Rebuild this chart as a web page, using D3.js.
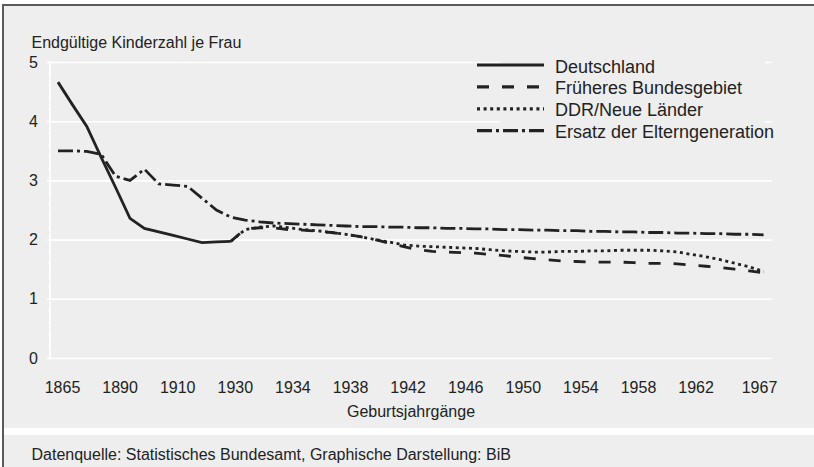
<!DOCTYPE html>
<html>
<head>
<meta charset="utf-8">
<script src="https://cdn.jsdelivr.net/npm/d3@7"></script>
<style>
  body { margin: 0; background: #fff; }
  svg text { font-family: "Liberation Sans", Arial, sans-serif; fill: #222; }
</style>
</head>
<body>
<svg width="814" height="467"></svg>
<script>
var svg = d3.select('svg');

// Birth cohorts (one category each; before 1930 the steps are wider)
var cohorts = ['1865', '1870', '1875', '1880', '1890', '1895', '1900', '1905', '1910', '1915', '1920', '1925',
    '1930', '1931', '1932', '1933', '1934', '1935', '1936', '1937', '1938', '1939',
    '1940', '1941', '1942', '1943', '1944', '1945', '1946', '1947', '1948', '1949',
    '1950', '1951', '1952', '1953', '1954', '1955', '1956', '1957', '1958', '1959',
    '1960', '1961', '1962', '1963', '1964', '1965', '1966', '1967'];

var tickLabels = ['1865', '1890', '1910', '1930', '1934', '1938', '1942', '1946', '1950', '1954', '1958', '1962', '1967'];
var yTicks = [0, 1, 2, 3, 4, 5];

// Deutschland, up to 1930
var deutschland = [4.66, 4.28, 3.91, 3.39, 2.88, 2.36, 2.19, 2.13, 2.07, 2.01, 1.95, 1.96, 1.97];

// Früheres Bundesgebiet, from 1930
var bundesgebiet = [1.97, 2.18, 2.20, 2.20, 2.17, 2.16, 2.14, 2.12, 2.09, 2.05,
    2.00, 1.94, 1.88, 1.83, 1.80, 1.79, 1.78, 1.77, 1.75, 1.73,
    1.70, 1.68, 1.66, 1.64, 1.63, 1.62, 1.62, 1.62, 1.61, 1.60,
    1.60, 1.59, 1.57, 1.55, 1.53, 1.50, 1.47, 1.44];

// DDR/Neue Länder, from 1930
var ddr = [1.97, 2.17, 2.21, 2.23, 2.20, 2.17, 2.15, 2.12, 2.09, 2.05,
    2.00, 1.96, 1.91, 1.89, 1.88, 1.87, 1.86, 1.85, 1.83, 1.81,
    1.80, 1.79, 1.79, 1.80, 1.80, 1.81, 1.81, 1.82, 1.82, 1.82,
    1.81, 1.79, 1.75, 1.71, 1.66, 1.60, 1.54, 1.46];

// Ersatz der Elterngeneration, all cohorts
var ersatz = [3.50, 3.50, 3.49, 3.44, 3.07, 3.00, 3.19, 2.94, 2.92, 2.90, 2.70, 2.50,
    2.38, 2.33, 2.30, 2.28, 2.27, 2.26, 2.25, 2.24, 2.23, 2.22,
    2.22, 2.21, 2.21, 2.20, 2.20, 2.19, 2.19, 2.18, 2.18, 2.17,
    2.17, 2.16, 2.16, 2.15, 2.15, 2.14, 2.14, 2.13, 2.13, 2.12,
    2.12, 2.11, 2.11, 2.10, 2.10, 2.09, 2.09, 2.08];

var series = [
    {name: 'Deutschland', values: deutschland, start: 0, dash: null},
    {name: 'Früheres Bundesgebiet', values: bundesgebiet, start: 12, dash: '12,13'},
    {name: 'DDR/Neue Länder', values: ddr, start: 12, dash: '3,3.6'},
    {name: 'Ersatz der Elterngeneration', values: ersatz, start: 0, dash: '15,4,3,4'}
];

var bg = '#eeeeee';
var plot = {l: 50, r: 772, t: 62, b: 358};

// Frame and background
svg.append('rect').attr('x', 3).attr('y', 5).attr('width', 820).attr('height', 470)
    .attr('fill', bg).attr('stroke', '#5a5a5a').attr('stroke-width', 2);
svg.append('rect').attr('x', 4).attr('y', 428).attr('width', 814).attr('height', 7).attr('fill', '#fff');

var x = d3.scalePoint().domain(cohorts).range([58, 763.6]);
var y = d3.scaleLinear().domain([0, 5]).range([plot.b, plot.t]);

// Gridlines + y labels
var yAxis = d3.axisLeft(y).tickValues(yTicks).tickSize(-(plot.r - 47)).tickFormat(d3.format('d'));
var yG = svg.append('g').attr('transform', 'translate(47,0)').call(yAxis);
yG.select('.domain').remove();
yG.selectAll('.tick line').attr('stroke', '#fff').attr('stroke-width', 1.6);
yG.selectAll('.tick text').attr('x', -9).attr('font-size', 16).attr('fill', '#222');

// minor ticks
var minor = d3.range(0, 5.01, 0.2);
svg.append('g').selectAll('line').data(minor).join('line')
    .attr('x1', 47.5).attr('x2', 50).attr('y1', d => y(d)).attr('y2', d => y(d))
    .attr('stroke', '#fff').attr('stroke-width', 1.2);
svg.append('line').attr('x1', plot.l).attr('x2', plot.l).attr('y1', plot.t).attr('y2', plot.b)
    .attr('stroke', '#fff').attr('stroke-width', 1.6);

// x labels
var xG = svg.append('g').attr('transform', 'translate(0,' + plot.b + ')')
    .call(d3.axisBottom(x).tickValues(tickLabels).tickSize(0));
xG.select('.domain').remove();
xG.selectAll('.tick text').attr('font-size', 16).attr('y', 0).attr('dy', '35px')
    .attr('x', function(d) { return Math.min(4, 759 - x(d)); });

svg.append('text').attr('x', (plot.l + plot.r) / 2).attr('y', 416.5)
    .attr('text-anchor', 'middle').attr('font-size', 16).text('Geburtsjahrgänge');
svg.append('text').attr('x', 31.5).attr('y', 48).attr('font-size', 16).text('Endgültige Kinderzahl je Frau');
svg.append('text').attr('x', 31.5).attr('y', 459.5).attr('font-size', 16)
    .text('Datenquelle: Statistisches Bundesamt, Graphische Darstellung: BiB');

// Legend background hides gridlines behind it
svg.append('rect').attr('x', 500).attr('y', 52).attr('width', 265).attr('height', 90).attr('fill', bg);

// Lines
var line = d3.line()
    .x(function(d) { return x(cohorts[d.i]); })
    .y(function(d) { return y(d.v); });

series.forEach(function(s) {
    var pts = s.values.map(function(v, k) { return {i: s.start + k, v: v}; });
    svg.append('path').datum(pts)
        .attr('d', line)
        .attr('fill', 'none')
        .attr('stroke', '#222')
        .attr('stroke-width', 2.8)
        .attr('stroke-dasharray', s.dash);
});

// Legend
var leg = svg.append('g').selectAll('g').data(series).join('g')
    .attr('transform', function(d, i) { return 'translate(477,' + (65 + i * 21.9) + ')'; });
leg.append('line').attr('x1', 0).attr('x2', 67).attr('y1', 0).attr('y2', 0)
    .attr('stroke', '#222').attr('stroke-width', 3.2)
    .attr('stroke-dasharray', function(d) { return d.dash; });
leg.append('text').attr('x', 78).attr('y', 7.5).attr('font-size', 18).text(function(d) { return d.name; });
</script>
</body>
</html>
